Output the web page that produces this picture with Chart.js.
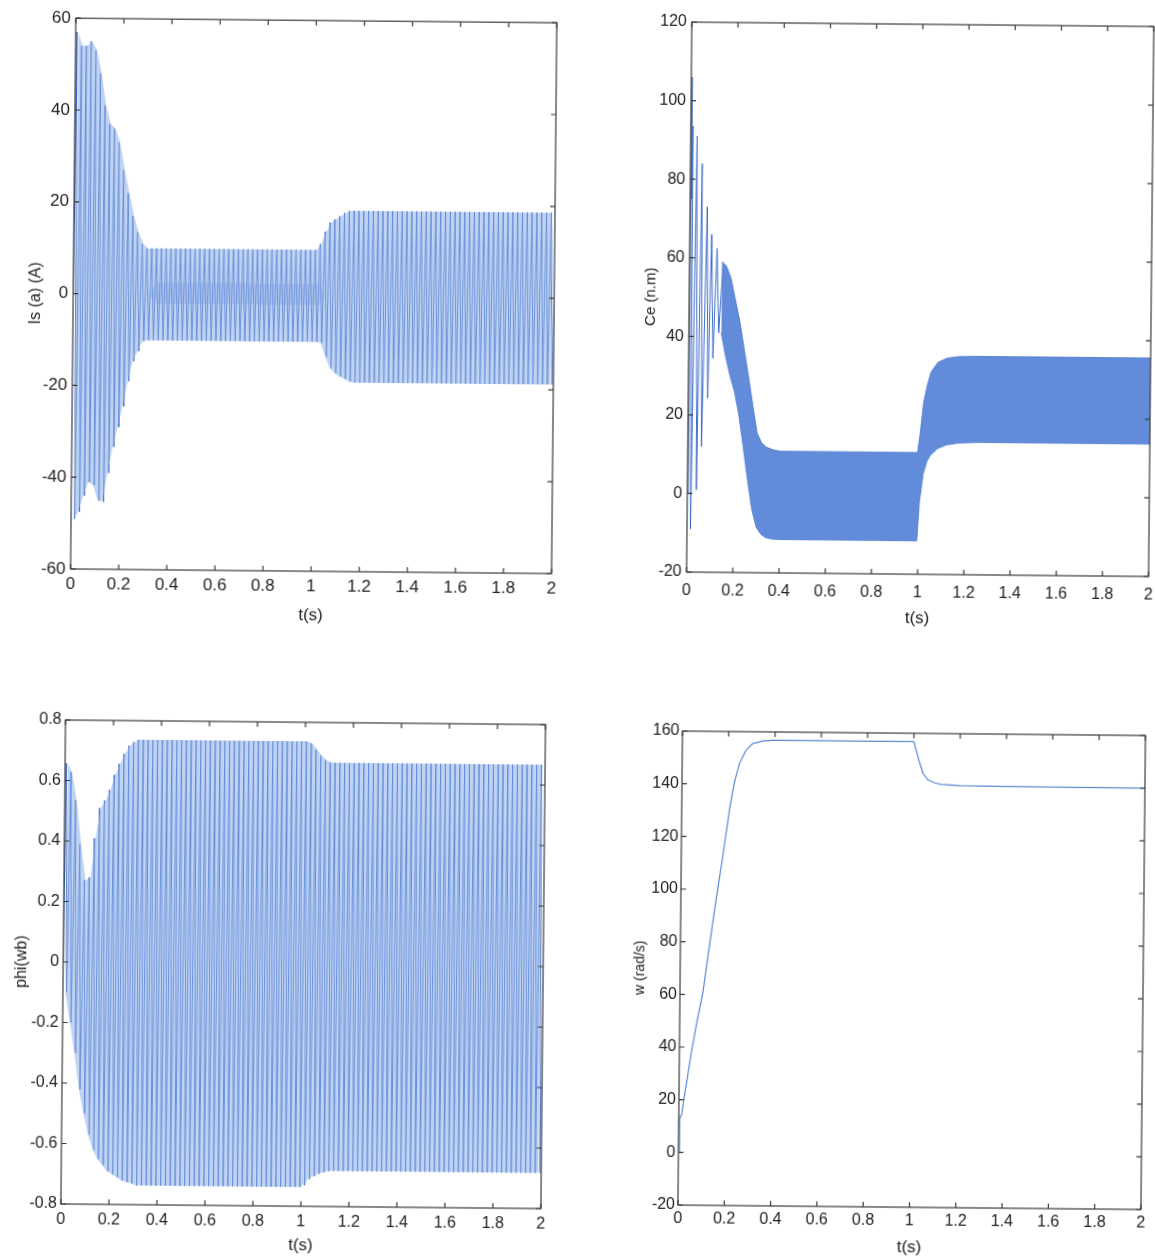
<!DOCTYPE html>
<html lang="en">
<head>
<meta charset="UTF-8">
<title>Is, Ce, phi, w</title>
<script src="https://cdn.jsdelivr.net/npm/chart.js"></script>
<style>
  body { margin: 0; background: #fff; width: 1155px; height: 1258px; overflow: hidden; position: relative; }
  canvas { position: absolute; transform: rotate(0.55deg); }
</style>
</head>
<body>
<canvas id="cIs"></canvas>
<canvas id="cCe"></canvas>
<canvas id="cPhi"></canvas>
<canvas id="cW"></canvas>
<script>
// one positive and one negative peak per supply period (50 Hz)
const period = 0.02;
const timeTicks = [0, 0.2, 0.4, 0.6, 0.8, 1, 1.2, 1.4, 1.6, 1.8, 2];

// Is(a) : peak values of each period
const isTicks = [-60, -40, -20, 0, 20, 40, 60];
const isHigh = [
  57, 54, 54, 55, 53, 48, 41, 37, 36, 33,
  27, 22, 17, 13.5, 11, 10, 10, 10, 10, 10,
  10, 10, 10, 10, 10, 10, 10, 10, 10, 10,
  10, 10, 10, 10, 10, 10, 10, 10, 10, 10,
  10, 10, 10, 10, 10, 10, 10, 10, 10, 10,
  10, 11.3, 14, 16, 16.7, 17.4, 18.1, 18.6, 18.6, 18.6,
  18.6, 18.6, 18.6, 18.6, 18.6, 18.6, 18.6, 18.6, 18.6, 18.6,
  18.6, 18.6, 18.6, 18.6, 18.6, 18.6, 18.6, 18.6, 18.6, 18.6,
  18.6, 18.6, 18.6, 18.6, 18.6, 18.6, 18.6, 18.6, 18.6, 18.6,
  18.6, 18.6, 18.6, 18.6, 18.6, 18.6, 18.6, 18.6, 18.6, 18.6
];
const isLow = [
  -49, -47.5, -44, -41, -41.7, -45, -45.3, -39, -33.3, -29,
  -24.5, -19, -14.6, -12.4, -10.2, -10, -10, -10, -10, -10,
  -10, -10, -10, -10, -10, -10, -10, -10, -10, -10,
  -10, -10, -10, -10, -10, -10, -10, -10, -10, -10,
  -10, -10, -10, -10, -10, -10, -10, -10, -10, -10,
  -10, -10.2, -13.2, -15.7, -16.8, -17.5, -18, -18.6, -18.8, -18.8,
  -18.8, -18.8, -18.8, -18.8, -18.8, -18.8, -18.8, -18.8, -18.8, -18.8,
  -18.8, -18.8, -18.8, -18.8, -18.8, -18.8, -18.8, -18.8, -18.8, -18.8,
  -18.8, -18.8, -18.8, -18.8, -18.8, -18.8, -18.8, -18.8, -18.8, -18.8,
  -18.8, -18.8, -18.8, -18.8, -18.8, -18.8, -18.8, -18.8, -18.8, -18.8
];
// darker cluster of traces around zero at light load
const isCoreT = [0.31, 0.35, 1.02, 1.05];
const isCoreHigh = [0, 2.6, 2.6, 0];
const isCoreLow = [0, -2, -2, 0];

// Ce : start-up spikes, then the ripple band (upper / lower edge)
const ceTicks = [-20, 0, 20, 40, 60, 80, 100, 120];
const ceSpikeT = [0, 0.004, 0.006, 0.009, 0.015, 0.028, 0.039, 0.051, 0.059, 0.075, 0.084, 0.095, 0.105, 0.119, 0.129, 0.146];
const ceSpikeV = [0, 106, 75, 93.5, -9, 91, 1, 84, 12, 73, 24.3, 66, 34.5, 62.5, 41, 59];
const ceBandT = [0.14, 0.16, 0.18, 0.20, 0.22, 0.24, 0.26, 0.28, 0.30, 0.32, 0.34, 0.37, 0.40, 0.70, 0.995, 1.005, 1.02, 1.035, 1.05, 1.08, 1.12, 1.17, 1.25, 2.00];
const ceBandHigh = [59, 58, 55, 49.5, 44, 37, 30, 22.5, 15.5, 13, 12, 11.3, 11, 11, 11, 15.5, 24, 28.2, 31.5, 34, 35.1, 35.5, 35.6, 35.6];
const ceBandLow = [41, 35, 30, 26, 20, 12, 3.5, -4, -8.5, -10.2, -11, -11.4, -11.5, -11.5, -11.5, -1.5, 5.5, 8.7, 10.3, 12, 13, 13.5, 13.7, 13.7];

// phi(wb) : peak values of each period
const phiTicks = [-0.8, -0.6, -0.4, -0.2, 0, 0.2, 0.4, 0.6, 0.8];
const phiHigh = [
  0.657, 0.627, 0.535, 0.39, 0.27, 0.28, 0.41, 0.51, 0.535, 0.57,
  0.62, 0.657, 0.69, 0.717, 0.729, 0.737, 0.737, 0.737, 0.737, 0.737,
  0.737, 0.737, 0.737, 0.737, 0.737, 0.737, 0.737, 0.737, 0.737, 0.737,
  0.737, 0.737, 0.737, 0.737, 0.737, 0.737, 0.737, 0.737, 0.737, 0.737,
  0.737, 0.737, 0.737, 0.737, 0.737, 0.737, 0.737, 0.737, 0.737, 0.737,
  0.737, 0.73, 0.71, 0.69, 0.675, 0.668, 0.667, 0.667, 0.667, 0.667,
  0.667, 0.667, 0.667, 0.667, 0.667, 0.667, 0.667, 0.667, 0.667, 0.667,
  0.667, 0.667, 0.667, 0.667, 0.667, 0.667, 0.667, 0.667, 0.667, 0.667,
  0.667, 0.667, 0.667, 0.667, 0.667, 0.667, 0.667, 0.667, 0.667, 0.667,
  0.667, 0.667, 0.667, 0.667, 0.667, 0.667, 0.667, 0.667, 0.667, 0.667
];
const phiLow = [
  -0.1, -0.2, -0.3, -0.42, -0.5, -0.57, -0.62, -0.65, -0.67, -0.69,
  -0.7, -0.71, -0.72, -0.725, -0.73, -0.736, -0.736, -0.736, -0.736, -0.736,
  -0.736, -0.736, -0.736, -0.736, -0.736, -0.736, -0.736, -0.736, -0.736, -0.736,
  -0.736, -0.736, -0.736, -0.736, -0.736, -0.736, -0.736, -0.736, -0.736, -0.736,
  -0.736, -0.736, -0.736, -0.736, -0.736, -0.736, -0.736, -0.736, -0.736, -0.736,
  -0.73, -0.709, -0.7, -0.692, -0.687, -0.683, -0.682, -0.682, -0.682, -0.682,
  -0.682, -0.682, -0.682, -0.682, -0.682, -0.682, -0.682, -0.682, -0.682, -0.682,
  -0.682, -0.682, -0.682, -0.682, -0.682, -0.682, -0.682, -0.682, -0.682, -0.682,
  -0.682, -0.682, -0.682, -0.682, -0.682, -0.682, -0.682, -0.682, -0.682, -0.682,
  -0.682, -0.682, -0.682, -0.682, -0.682, -0.682, -0.682, -0.682, -0.682, -0.682
];

// w(rad/s)
const wTicks = [-20, 0, 20, 40, 60, 80, 100, 120, 140, 160];
const wT = [0, 0.004, 0.013, 0.02, 0.035, 0.05, 0.072, 0.0995, 0.126, 0.153, 0.18, 0.207, 0.227, 0.248, 0.276, 0.304, 0.347, 0.39, 1.0, 1.025, 1.04, 1.06, 1.09, 1.12, 1.2, 1.4, 2.0];
const wV = [0, 13, 14.5, 19.5, 28, 37, 48.5, 61, 79, 96.6, 113, 130.8, 141, 148, 153, 155.5, 156.5, 156.8, 156.8, 149, 145, 142.5, 141.3, 140.7, 140.3, 140.1, 140];

const lineBlue = 'rgba(45,95,195,0.9)';
const lightBlue = 'rgba(140,175,232,0.55)';
const tickFamily = "'Liberation Sans', Arial, sans-serif";
const titleFamily = "'Liberation Sans', Arial, sans-serif";

function zigzag(high, low) {
  const pts = [{x: 0, y: 0}];
  high.forEach((h, i) => {
    pts.push({x: i * period + period / 4, y: h});
    pts.push({x: i * period + 3 * period / 4, y: low[i]});
  });
  return pts;
}
function envelope(vals) {
  return vals.map((v, i) => ({x: i * period + period / 2, y: v}));
}
function pairs(t, v) {
  return t.map((x, i) => ({x: x, y: v[i]}));
}
const fmt = v => String(+v.toFixed(2));

// box around the axes and inward ticks on all four sides, as in MATLAB
const frame = {
  id: 'frame',
  afterDraw(chart) {
    const {ctx, chartArea: a, scales: {x, y}} = chart;
    ctx.save();
    ctx.strokeStyle = '#3a3a3a';
    ctx.lineWidth = 1.2;
    ctx.strokeRect(a.left, a.top, a.right - a.left, a.bottom - a.top);
    ctx.beginPath();
    x.ticks.forEach(t => {
      const px = x.getPixelForValue(t.value);
      ctx.moveTo(px, a.bottom); ctx.lineTo(px, a.bottom - 5);
      ctx.moveTo(px, a.top); ctx.lineTo(px, a.top + 5);
    });
    y.ticks.forEach(t => {
      const py = y.getPixelForValue(t.value);
      ctx.moveTo(a.left, py); ctx.lineTo(a.left + 5, py);
      ctx.moveTo(a.right, py); ctx.lineTo(a.right - 5, py);
    });
    ctx.stroke();
    ctx.restore();
  }
};

function makeChart(id, box, yTicks, yTitle, datasets, s) {
  const padL = 75, padR = 15, padT = 15, padB = 55;
  const cv = document.getElementById(id);
  cv.width = box.right - box.left + padL + padR;
  cv.height = box.bottom - box.top + padT + padB;
  cv.style.left = (box.left - padL) + 'px';
  cv.style.top = (box.top - padT) + 'px';
  return new Chart(cv, {
    type: 'line',
    data: { datasets: datasets },
    options: {
      responsive: false,
      animation: false,
      events: [],
      layout: { padding: { left: 0, right: padR, top: padT, bottom: 0 } },
      plugins: { legend: { display: false }, tooltip: { enabled: false } },
      elements: { point: { radius: 0 }, line: { tension: 0 } },
      scales: {
        x: {
          type: 'linear', min: 0, max: 2,
          afterFit: sc => { sc.height = padB; },
          afterBuildTicks: sc => { sc.ticks = timeTicks.map(v => ({value: v})); },
          grid: { display: false, drawTicks: false }, border: { display: false },
          ticks: { padding: s.xPad, color: '#222', maxRotation: 0, autoSkip: false, callback: fmt,
                   font: { family: tickFamily, size: s.tick } },
          title: { display: true, text: 't(s)', color: '#222',
                   font: { family: titleFamily, size: 17 }, padding: { top: 0, bottom: s.xTitlePad } }
        },
        y: {
          type: 'linear', min: yTicks[0], max: yTicks[yTicks.length - 1],
          afterFit: sc => { sc.width = padL; },
          afterBuildTicks: sc => { sc.ticks = yTicks.map(v => ({value: v})); },
          grid: { display: false, drawTicks: false }, border: { display: false },
          ticks: { padding: s.yPad, color: '#222', autoSkip: false, callback: fmt,
                   font: { family: tickFamily, size: s.tick } },
          title: { display: true, text: yTitle, color: '#222',
                   font: { family: titleFamily, size: s.yTitle }, padding: { top: s.yTitlePad, bottom: 0 } }
        }
      }
    },
    plugins: [frame]
  });
}

makeChart('cIs', {left: 73, top: 20, right: 554, bottom: 571}, isTicks, 'Is (a) (A)', [
  { data: envelope(isHigh), borderWidth: 0, fill: '+1', backgroundColor: lightBlue },
  { data: envelope(isLow), borderWidth: 0, fill: false },
  { data: pairs(isCoreT, isCoreHigh), borderWidth: 0, fill: '+1', backgroundColor: 'rgba(60,105,200,0.22)' },
  { data: pairs(isCoreT, isCoreLow), borderWidth: 0, fill: false },
  { data: zigzag(isHigh, isLow), borderColor: lineBlue, borderWidth: 1, fill: false }
], {tick: 17, xPad: 5, yPad: 5, xTitlePad: 0, yTitlePad: 28, yTitle: 16});

makeChart('cCe', {left: 689, top: 24, right: 1151, bottom: 574}, ceTicks, 'Ce (n.m)', [
  { data: pairs(ceBandT, ceBandHigh), borderColor: 'rgba(80,125,210,0.9)', borderWidth: 1, fill: '+1', backgroundColor: 'rgba(85,130,215,0.92)' },
  { data: pairs(ceBandT, ceBandLow), borderColor: 'rgba(80,125,210,0.9)', borderWidth: 1, fill: false },
  { data: pairs(ceSpikeT, ceSpikeV), borderColor: lineBlue, borderWidth: 1, fill: false }
], {tick: 16, xPad: 9, yPad: 5, xTitlePad: 0, yTitlePad: 28, yTitle: 15});

makeChart('cPhi', {left: 63, top: 722, right: 543, bottom: 1206}, phiTicks, 'phi(wb)', [
  { data: envelope(phiHigh), borderWidth: 0, fill: '+1', backgroundColor: lightBlue },
  { data: envelope(phiLow), borderWidth: 0, fill: false },
  { data: zigzag(phiHigh, phiLow), borderColor: lineBlue, borderWidth: 1, fill: false }
], {tick: 16, xPad: 6, yPad: 4, xTitlePad: 5, yTitlePad: 24, yTitle: 16});

makeChart('cW', {left: 680, top: 733, right: 1143, bottom: 1207}, wTicks, 'w (rad/s)', [
  { data: pairs(wT, wV), borderColor: 'rgba(80,130,210,0.95)', borderWidth: 1.2, fill: false }
], {tick: 16, xPad: 4, yPad: 3, xTitlePad: 4, yTitlePad: 27, yTitle: 14});
</script>
</body>
</html>
